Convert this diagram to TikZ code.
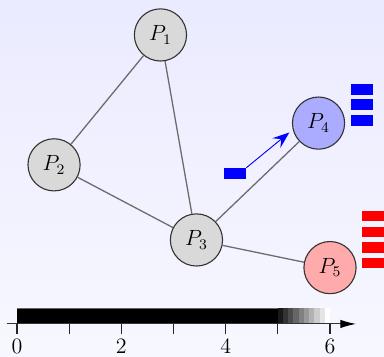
\documentclass[tikz,border=0pt]{standalone}
\usetikzlibrary{arrows.meta}
\begin{document}
\begin{tikzpicture}[
  pnode/.style={circle, draw=black!80, line width=0.6pt, fill=black!15, minimum size=1cm, inner sep=0pt, font=\large},
  edge/.style={draw=black!58, line width=0.7pt},
  bluepkt/.style={fill=blue, inner sep=0pt, minimum width=0.42cm, minimum height=0.205cm},
  redpkt/.style={fill=red, inner sep=0pt, minimum width=0.42cm, minimum height=0.2cm},
  tick/.style={draw=black!85, line width=0.6pt}
]
\useasboundingbox (-0.326,-0.633) rectangle (7.035,6.21);
\shade[top color=blue!8, bottom color=blue!3] (-0.326,-0.633) rectangle (7.035,6.21);

% nodes
\node[pnode] (P1) at (2.75,5.54) {$P_1$};
\node[pnode] (P2) at (0.71,3.05) {$P_2$};
\node[pnode] (P3) at (3.44,1.61) {$P_3$};
\node[pnode, fill=blue!33] (P4) at (5.78,3.85) {$P_4$};
\node[pnode, fill=red!33] (P5) at (6.0,1.08) {$P_5$};

% edges
\draw[edge] (P1) -- (P2);
\draw[edge] (P1) -- (P3);
\draw[edge] (P2) -- (P3);
\draw[edge] (P3) -- (P4);
\draw[edge] (P3) -- (P5);

% blue packet with arrow
\node[bluepkt] (b0) at (4.18,2.885) {};
\coordinate (bend) at (5.22,3.67);
\draw[blue, line width=0.5pt, -{Stealth[length=3.2mm, width=2.4mm, inset=1.2mm]}] (b0.north east) -- (bend);

% blue queue
\node[bluepkt] (b1) at (6.61,4.495) {};
\node[bluepkt] (b2) at (6.61,4.207) {};
\node[bluepkt] (b3) at (6.61,3.906) {};

% red queue
\node[redpkt] (r1) at (6.82,2.068) {};
\node[redpkt] (r2) at (6.82,1.762) {};
\node[redpkt] (r3) at (6.82,1.466) {};
\node[redpkt] (r4) at (6.82,1.163) {};

% bar
\fill[black] (0,0) rectangle (5,0.3);
\foreach \i in {0,...,9} {
  \pgfmathtruncatemacro{\shadeval}{90-10*\i}
  \fill[black!\shadeval] ({5+0.1*\i},0) rectangle ({5.1+0.1*\i},0.3);
}
\draw[black!60, line width=0.4pt] (0,0.3) -- (5,0.3);

% axis
\coordinate (ax0) at (-0.2,0);
\coordinate (ax1) at (6.5,0);
\draw[black!80, line width=0.6pt, -{Latex[length=3mm, width=1.6mm, black]}] (ax0) -- (ax1);
\foreach \x in {0,...,6} {
  \draw[tick] (\x,0) -- (\x,-0.2);
}
\foreach \x in {0,2,4,6} {
  \node[font=\large, anchor=north, inner sep=2pt] (lab\x) at (\x,-0.22) {$\x$};
}
\end{tikzpicture}
\end{document}
